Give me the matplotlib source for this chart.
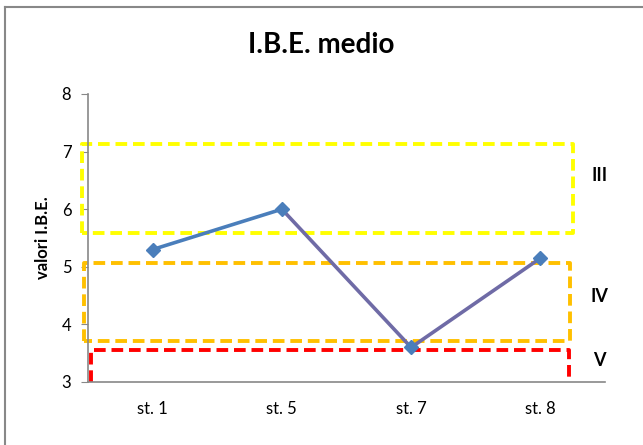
import matplotlib.pyplot as plt
from matplotlib.lines import Line2D

plt.rcParams['font.family'] = ['Lato', 'DejaVu Sans']

stations = ['st. 1', 'st. 5', 'st. 7', 'st. 8']
ibe = [5.3, 6.0, 3.6, 5.15]

# quality class bands (low, high) of the I.B.E. index
class_labels = ['III', 'IV', 'V']
class_low = [5.58, 3.72, 3.0]
class_high = [7.14, 5.06, 3.56]
class_colors = ['#ffff00', '#ffc000', '#ff0000']
class_xspan = [(-0.545, 3.25), (-0.53, 3.23), (-0.475, 3.22)]
label_y = [6.58, 4.49, 3.38]

fig = plt.figure(figsize=(6.43, 4.45), dpi=100)
ax = fig.add_axes([88/643, 63/445, 517/643, 288/445])

x = list(range(len(stations)))

# dashed boxes for each class; the lowest one sits on the x axis, no bottom edge
for lab, lo, hi, c, (x0, x1) in zip(class_labels, class_low, class_high,
                                    class_colors, class_xspan):
    if lab == 'V':
        xs, ys = [x0, x0, x1, x1], [lo, hi, hi, lo]
    else:
        xs, ys = [x0, x0, x1, x1, x0], [lo, hi, hi, lo, lo]
    ax.plot(xs, ys, color=c, lw=2.8, ls=(0, (3.0, 1.5)), clip_on=False, zorder=2)

# line: first segment blue, the rest purple-grey
ax.plot(x[:2], ibe[:2], color='#4a7ebb', lw=2.6, zorder=3, solid_capstyle='round')
ax.plot(x[1:], ibe[1:], color='#6f6ba6', lw=2.6, zorder=3, solid_capstyle='round')
ax.plot(x, ibe, ls='none', marker='D', ms=7, color='#4a7ebb', zorder=4)

for lab, yy in zip(class_labels, label_y):
    ax.text(3.46, yy, lab, fontsize=13, fontweight='bold', ha='center',
            va='center', clip_on=False)

ax.set_xlim(-0.5, 3.5)
ax.set_ylim(3, 8)
ax.set_xticks(x)
ax.set_xticklabels(stations, fontsize=12)
ax.set_yticks([3, 4, 5, 6, 7, 8])
ax.tick_params(axis='x', length=0, pad=14)
ax.tick_params(axis='y', length=5, color='#888888', labelsize=12, pad=7)
for s in ['top', 'right']:
    ax.spines[s].set_visible(False)
for s in ['left', 'bottom']:
    ax.spines[s].set_color('#888888')
    ax.spines[s].set_linewidth(1.2)
    ax.spines[s].set_zorder(5)

ax.set_ylabel('valori I.B.E.', fontsize=12, fontweight='bold', labelpad=8)
fig.text(0.5, 1 - 45/445, 'I.B.E. medio', fontsize=20, fontweight='bold',
         ha='center', va='center')

# chart frame (top and left edges)
fig.add_artist(Line2D([5/643, 5/643], [0, 1 - 7/445], color='#888888', lw=1.5))
fig.add_artist(Line2D([5/643, 1], [1 - 7/445, 1 - 7/445], color='#888888', lw=1.5))

fig.savefig('out.png', dpi=100)
